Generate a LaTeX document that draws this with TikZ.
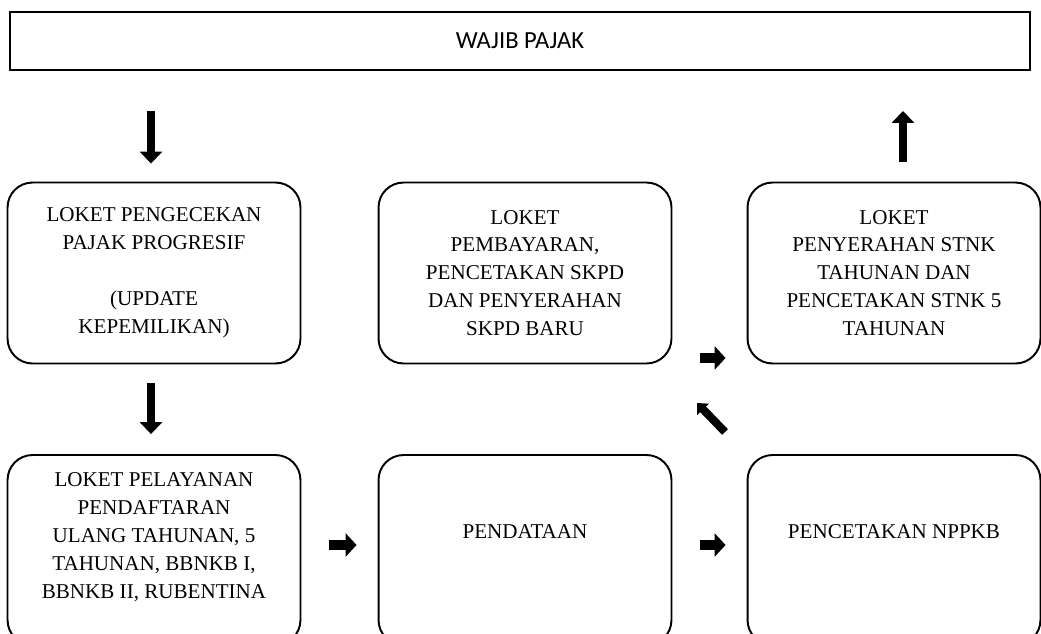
\documentclass[tikz,border=0pt]{standalone}
\usepackage{fontspec}
\setmainfont{Liberation Serif}
\newfontfamily\judulfont{Carlito}
\usetikzlibrary{arrows.meta}

\begin{document}
\begin{tikzpicture}[x=0.02cm, y=-0.02cm,
  judul/.style={draw, line width=1.1pt, minimum width=20.42cm, minimum height=1.16cm,
    font=\judulfont\fontsize{14}{17}\selectfont},
  loket/.style={draw, line width=1.1pt, rounded corners=0.5cm, minimum width=5.86cm,
    minimum height=3.62cm, align=center, font=\fontsize{12}{15.9}\selectfont},
  isi/.style={align=center, font=\fontsize{12}{15.9}\selectfont},
  panah/.style={line width=4.5pt, -{Triangle[width=12.5pt,length=6.8pt]}},
  panahkanan/.style={line width=5.4pt, -{Triangle[width=13pt,length=6.2pt]},
    shorten <=0.56cm, shorten >=0.42cm},
  panahmiring/.style={line width=4.6pt, -{Triangle[width=9pt,length=5pt]}}
]
  \useasboundingbox (0,0) rectangle (1041,633);

  % kotak atas
  \node[judul] (wp) at (520,41) {WAJIB PAJAK};

  % baris atas
  \node[loket] (cek) at (154,273) {LOKET PENGECEKAN\\PAJAK PROGRESIF\\[15.9pt](UPDATE\\KEPEMILIKAN)};
  \node[loket] (bayar) at (525,273) {LOKET\\PEMBAYARAN,\\PENCETAKAN SKPD\\DAN PENYERAHAN\\SKPD BARU};
  \node[loket] (serah) at (894,273) {LOKET\\PENYERAHAN STNK\\TAHUNAN DAN\\PENCETAKAN STNK 5\\TAHUNAN};

  % baris bawah
  \node[loket, minimum height=3.8cm] (daftar) at (154,550) {};
  \node[isi] (daftar-t) at (154,537) {LOKET PELAYANAN\\PENDAFTARAN\\ULANG TAHUNAN, 5\\TAHUNAN, BBNKB I,\\BBNKB II, RUBENTINA};
  \node[loket, minimum height=3.8cm] (data) at (525,550) {};
  \node[isi] (data-t) at (525,532) {PENDATAAN};
  \node[loket, minimum height=3.8cm] (cetak) at (894,550) {};
  \node[isi] (cetak-t) at (894,532) {PENCETAKAN NPPKB};

  % panah
  \draw[panah, shorten <=0.8cm, shorten >=0.36cm] ([xshift=-0.06cm]wp.south -| cek.north) -- ([xshift=-0.06cm]cek.north);
  \draw[panah, shorten <=0.38cm, shorten >=0.4cm] ([xshift=-0.06cm]cek.south) -- ([xshift=-0.06cm]daftar.north);
  \draw[panah, shorten <=0.4cm, shorten >=0.8cm] ([xshift=0.18cm]serah.north) -- ([xshift=0.18cm]serah.north |- wp.south);
  \draw[panahkanan] ([yshift=0.1cm]daftar.east) -- ([yshift=0.1cm]data.west);
  \draw[panahkanan] ([yshift=0.1cm]data.east) -- ([yshift=0.1cm]cetak.west);
  \draw[panahkanan] ([yshift=-1.7cm]bayar.east) -- ([yshift=-1.7cm]serah.west);
  \coordinate (miringA) at (725,432);
  \coordinate (miringB) at (697,403);
  \draw[panahmiring] (miringA) -- (miringB);
\end{tikzpicture}
\end{document}
